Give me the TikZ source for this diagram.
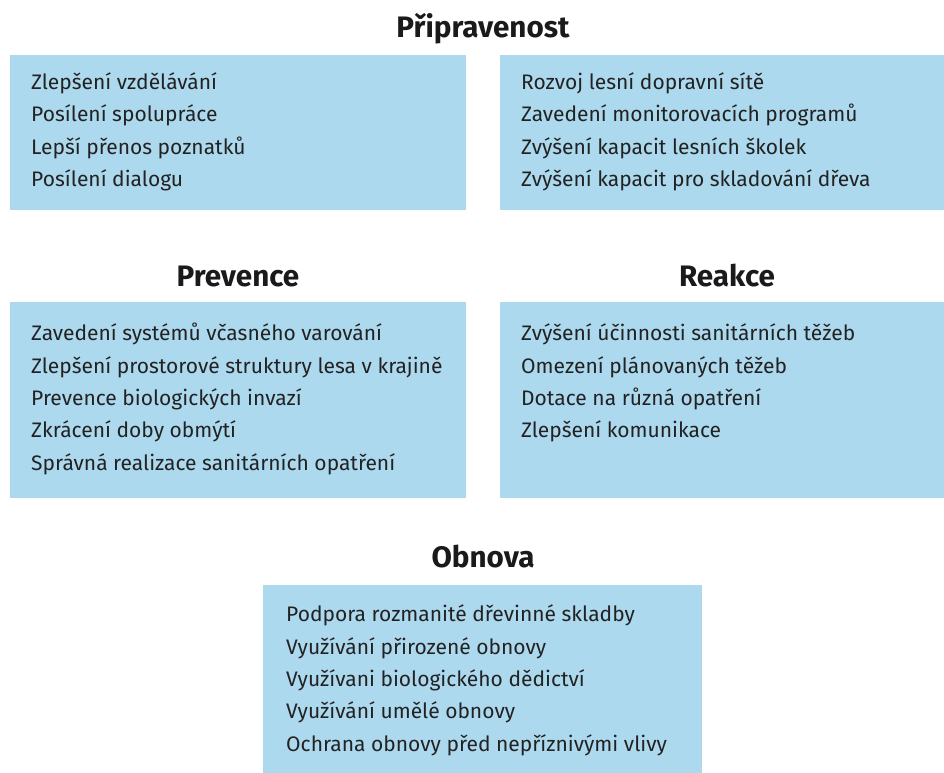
\documentclass[tikz,border=0pt]{standalone}
\usepackage{fontspec}
\setmainfont{Fira Sans}
\usepackage{xcolor}
\usetikzlibrary{positioning}
\definecolor{panelblue}{RGB}{173,217,238}
\definecolor{itemgray}{RGB}{34,34,34}
\definecolor{headblack}{RGB}{26,26,26}

\begin{document}
\begin{tikzpicture}[x=1pt, y=-1pt,
    panel/.style={fill=panelblue, draw=none, anchor=north west, inner sep=0pt},
    heading/.style={font=\fontsize{29.6}{34}\selectfont\bfseries, text=headblack, anchor=base, inner sep=0pt},
    item/.style={font=\fontsize{21}{26}\selectfont, text=itemgray, anchor=base west, inner sep=0pt}]
\clip (0,0) rectangle (944,772);

% Panels
\node[panel, minimum width=456pt, minimum height=155pt] (prepL) at (10,55) {};
\node[panel, minimum width=454pt, minimum height=155pt] (prepR) at (500,55) {};
\node[panel, minimum width=456pt, minimum height=196pt] (prev) at (10,302) {};
\node[panel, minimum width=454pt, minimum height=196pt] (reak) at (500,302) {};
\node[panel, minimum width=439pt, minimum height=200pt] (obn) at (263,585) {};

% Headings
\node[heading] (prepTitle) at (483,37) {Připravenost};
\node[heading] (prevTitle) at (238,286) {Prevence};
\node[heading] (reakTitle) at (727,286) {Reakce};
\node[heading] (obnTitle) at (483,567) {Obnova};

% Items
\foreach \txt [count=\i] in {Zlepšení vzdělávání, Posílení spolupráce, Lepší přenos poznatků, Posílení dialogu} {
    \node[item] (prepL-\i) at (31, {89.3+32.4*(\i-1)}) {\txt};
}
\foreach \txt [count=\i] in {Rozvoj lesní dopravní sítě, Zavedení monitorovacích programů, Zvýšení kapacit lesních školek, Zvýšení kapacit pro skladování dřeva} {
    \node[item] (prepR-\i) at (521, {89.3+32.4*(\i-1)}) {\txt};
}
\foreach \txt [count=\i] in {Zavedení systémů včasného varování, Zlepšení prostorové struktury lesa v krajině, Prevence biologických invazí, Zkrácení doby obmýtí, Správná realizace sanitárních opatření} {
    \node[item] (prev-\i) at (31, {340.7+32.4*(\i-1)}) {\txt};
}
\foreach \txt [count=\i] in {Zvýšení účinnosti sanitárních těžeb, Omezení plánovaných těžeb, Dotace na různá opatření, Zlepšení komunikace} {
    \node[item] (reak-\i) at (521, {340.7+32.4*(\i-1)}) {\txt};
}
\foreach \txt [count=\i] in {Podpora rozmanité dřevinné skladby, Využívání přirozené obnovy, Využívani biologického dědictví, Využívání umělé obnovy, Ochrana obnovy před nepříznivými vlivy} {
    \node[item] (obn-\i) at (286, {621.7+32.4*(\i-1)}) {\txt};
}
\end{tikzpicture}
\end{document}
